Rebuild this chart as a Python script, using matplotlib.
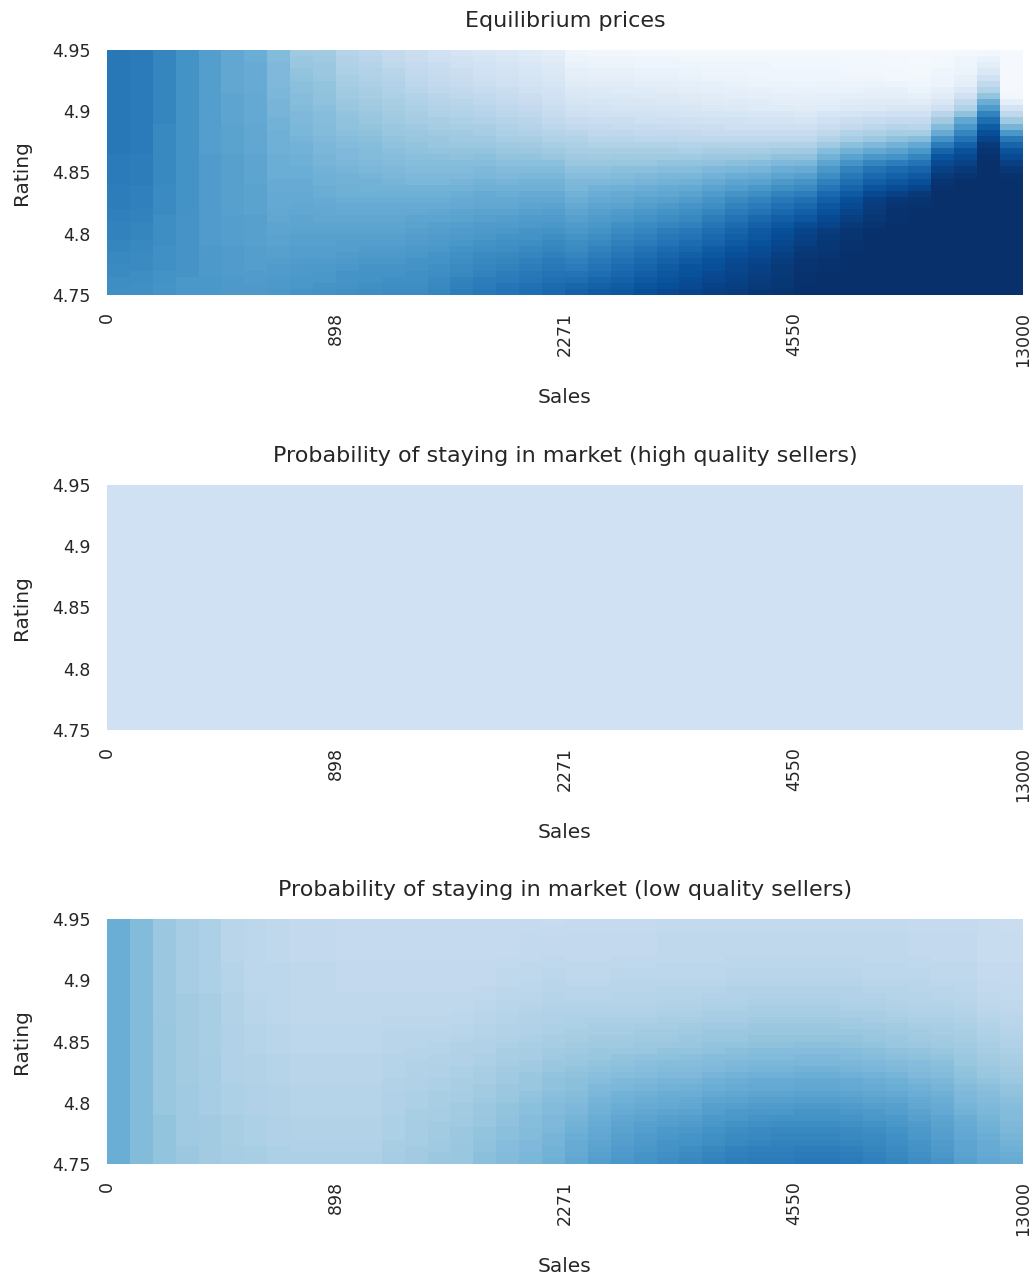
import numpy as np
import matplotlib
matplotlib.use("Agg")
import matplotlib.pyplot as plt

plt.rcParams["font.family"] = "DejaVu Sans"
for key in ["text.color", "axes.labelcolor", "xtick.color", "ytick.color"]:
    plt.rcParams[key] = ".15"

# axis labels
sales_ticks = [0, 898, 2271, 4550, 13000]
rating_ticks = [4.75, 4.8, 4.85, 4.9, 4.95]
rating_labels = ["4.75", "4.8", "4.85", "4.9", "4.95"]
n_sales = 40
n_rating = 40

# colour level (percent of the Blues scale),
# one list per sales bin, from rating 4.75 (bottom) up to 4.95 (top)
price_cols = [
    [63, 64, 64, 65, 65, 66, 66, 67, 67, 68, 68, 68, 69, 69, 70, 70, 70, 70, 71, 71, 71, 71, 71, 72, 72] + [72] * 15,
    [63, 63, 64, 64, 65, 65, 65, 66, 66, 67, 67, 67, 68, 68, 69, 69, 69, 69, 70, 70, 70, 70, 70, 71, 71] + [71] * 15,
    [61, 61, 62, 62, 63, 63, 63, 63, 64, 64, 64, 64, 64, 65, 65, 65, 65, 65, 66, 66, 66, 66, 66, 66, 66, 66, 66, 66, 67, 67] + [67] * 10,
    [60, 60, 60, 61, 61, 61, 61, 61, 61, 61, 61, 61, 61, 62, 62] + [62] * 25,
    [60, 60, 60, 59, 59, 59, 59, 59] + [58] * 15 + [57] * 17,
    [59, 59, 59, 58, 58, 58, 58, 58, 57, 57, 57, 57, 57, 56, 56, 56, 56, 56, 56, 56, 56, 56, 56, 55, 55, 55, 55, 55, 54, 54, 54, 54, 54, 53, 53, 53, 53, 53, 53, 53],
    [59, 59, 58, 58, 57, 57, 57, 57, 56, 56, 56, 56, 56, 55, 55, 55, 55, 55, 54, 54, 54, 54, 54, 53, 53, 53, 53, 53, 52, 52, 52, 52, 52, 51, 51, 51, 51, 51, 50, 50],
    [60, 59, 59, 58, 58, 57, 56, 56, 55, 55, 54, 54, 53, 53, 52, 52, 52, 51, 51, 50, 50, 50, 50, 49, 49, 49, 49, 48, 48, 47, 47, 47, 46, 46, 45, 45, 45, 45, 44, 44],
    [61, 60, 60, 59, 59, 58, 57, 57, 56, 56, 55, 54, 54, 53, 53, 52, 52, 51, 51, 50, 50, 49, 49, 48, 48, 47, 46, 46, 45, 45, 44, 43, 43, 42, 42, 41, 40, 39, 38, 37],
    [62, 61, 60, 60, 59, 58, 57, 57, 56, 56, 55, 54, 53, 53, 52, 51, 50, 50, 49, 49, 48, 47, 47, 46, 46, 45, 44, 44, 43, 43, 42, 41, 41, 40, 40, 39, 38, 38, 37, 36],
    [63, 62, 61, 61, 60, 59, 58, 57, 57, 56, 55, 54, 53, 52, 51, 50, 49, 49, 48, 48, 47, 46, 45, 45, 44, 43, 42, 41, 41, 40, 39, 38, 37, 36, 35, 34, 33, 32, 31, 30],
    [64, 63, 62, 62, 61, 60, 59, 58, 57, 56, 55, 54, 53, 52, 51, 50, 49, 48, 48, 47, 46, 45, 44, 44, 43, 42, 41, 40, 39, 38, 37, 36, 35, 34, 33, 32, 31, 30, 29, 28],
    [65, 64, 63, 62, 61, 60, 59, 58, 57, 56, 55, 54, 53, 52, 51, 50, 49, 48, 47, 46, 45, 44, 43, 42, 41, 40, 39, 38, 37, 36, 35, 34, 33, 32, 31, 30, 29, 27, 26, 25],
    [65, 64, 63, 63, 62, 61, 60, 59, 58, 57, 56, 55, 54, 52, 51, 50, 49, 48, 46, 45, 44, 43, 42, 41, 40, 39, 38, 37, 35, 34, 33, 32, 31, 29, 28, 27, 26, 25, 23, 22],
    [67, 66, 65, 64, 63, 62, 61, 60, 59, 58, 57, 56, 54, 53, 51, 50, 49, 48, 46, 45, 44, 43, 42, 40, 39, 38, 37, 35, 34, 32, 31, 30, 29, 27, 26, 25, 24, 23, 21, 20],
    [70, 69, 68, 66, 65, 64, 63, 62, 60, 59, 58, 57, 55, 54, 52, 51, 50, 48, 47, 45, 44, 43, 41, 40, 38, 37, 36, 34, 33, 31, 30, 29, 27, 26, 24, 23, 22, 20, 19, 17],
    [72, 71, 70, 68, 67, 66, 65, 63, 62, 60, 59, 58, 56, 55, 53, 52, 51, 49, 48, 46, 45, 43, 42, 40, 38, 37, 35, 34, 32, 30, 29, 27, 26, 24, 22, 21, 20, 18, 17, 15],
    [74, 73, 71, 70, 68, 67, 66, 64, 63, 61, 60, 58, 57, 55, 53, 52, 50, 49, 47, 45, 44, 42, 40, 39, 37, 35, 33, 32, 30, 28, 27, 25, 24, 22, 20, 19, 18, 17, 15, 14],
    [76, 75, 73, 72, 70, 69, 67, 66, 64, 62, 61, 59, 58, 56, 54, 53, 51, 49, 48, 46, 44, 42, 40, 38, 36, 34, 32, 30, 29, 27, 25, 23, 22, 20, 18, 17, 16, 15, 13, 12],
    [78, 77, 75, 74, 72, 71, 69, 67, 66, 64, 62, 60, 58, 57, 55, 53, 51, 49, 48, 46, 44, 42, 39, 37, 34, 32, 30, 28, 26, 24, 22, 21, 19, 18, 16, 15, 14, 13, 11, 10],
    [81, 79, 76, 74, 71, 69, 67, 65, 64, 62, 60, 58, 56, 54, 52, 50, 48, 46, 45, 43, 41, 39, 37, 35, 33, 31, 29, 26, 24, 21, 19, 17, 15, 14, 12, 10, 9, 7, 6, 4],
    [83, 81, 79, 76, 74, 72, 70, 68, 66, 64, 62, 60, 58, 56, 54, 52, 50, 48, 45, 43, 41, 39, 36, 34, 31, 29, 27, 25, 22, 20, 18, 16, 14, 13, 11, 9, 8, 6, 5, 3],
    [85, 83, 81, 79, 77, 75, 73, 71, 69, 67, 65, 63, 60, 58, 55, 53, 51, 49, 46, 44, 42, 39, 37, 34, 31, 29, 27, 24, 22, 19, 17, 15, 14, 12, 11, 9, 8, 6, 5, 3],
    [88, 86, 84, 82, 80, 78, 76, 74, 71, 69, 67, 65, 62, 60, 57, 55, 52, 50, 47, 45, 42, 39, 36, 34, 31, 28, 26, 24, 21, 19, 17, 15, 13, 12, 10, 8, 7, 5, 4, 2],
    [90, 88, 86, 85, 83, 81, 79, 77, 74, 72, 70, 67, 64, 62, 59, 56, 53, 51, 48, 46, 43, 40, 37, 34, 31, 28, 26, 23, 21, 18, 16, 14, 13, 11, 10, 8, 7, 5, 4, 2],
    [92, 90, 89, 87, 86, 84, 82, 79, 77, 74, 72, 69, 66, 64, 61, 58, 55, 52, 49, 46, 43, 40, 37, 33, 30, 27, 25, 22, 20, 17, 15, 13, 12, 10, 9, 7, 6, 5, 3, 2],
    [94, 93, 91, 90, 88, 87, 85, 83, 80, 78, 76, 73, 70, 67, 64, 61, 58, 55, 51, 48, 45, 41, 38, 34, 31, 27, 24, 22, 19, 17, 14, 12, 11, 9, 8, 6, 5, 4, 3, 2],
    [95, 94, 93, 92, 91, 90, 88, 86, 84, 82, 80, 77, 74, 71, 68, 65, 61, 57, 54, 50, 46, 42, 38, 35, 31, 27, 24, 21, 19, 16, 13, 12, 10, 9, 7, 6, 5, 4, 3, 2],
    [97, 96, 95, 94, 93, 92, 90, 89, 87, 85, 84, 81, 78, 74, 71, 68, 64, 60, 55, 51, 47, 43, 39, 35, 31, 27, 24, 21, 18, 15, 12, 11, 9, 8, 6, 5, 4, 4, 3, 2],
    [98, 97, 97, 96, 96, 95, 94, 92, 91, 89, 88, 85, 82, 78, 75, 72, 68, 63, 59, 54, 50, 45, 41, 36, 32, 27, 24, 21, 18, 15, 12, 10, 9, 7, 6, 4, 4, 3, 3, 2],
    [100, 100, 99, 99, 98, 98, 97, 96, 94, 93, 92, 89, 85, 82, 78, 75, 70, 65, 61, 56, 51, 46, 41, 37, 32, 27, 24, 21, 17, 14, 11, 10, 8, 7, 5, 4, 4, 3, 3, 2],
    [100, 100, 100, 100, 99, 99, 98, 97, 97, 96, 95, 92, 90, 87, 85, 82, 78, 73, 69, 64, 60, 54, 48, 43, 37, 31, 27, 23, 20, 16, 12, 10, 9, 7, 6, 4, 4, 3, 3, 2],
    [100, 100, 100, 100, 100, 100, 100, 99, 99, 98, 98, 96, 94, 92, 90, 88, 84, 80, 76, 72, 68, 61, 55, 48, 42, 35, 31, 26, 22, 17, 13, 11, 9, 7, 5, 4, 3, 3, 2, 2],
    [100] * 11 + [98, 97, 96, 95, 94, 90, 86, 82, 78, 74, 67, 60, 52, 45, 38, 33, 28, 24, 19, 14, 12, 10, 8, 6, 4, 3, 3, 2, 2],
    [100] * 12 + [99, 99, 98, 97, 93, 89, 85, 81, 77, 70, 62, 55, 48, 41, 35, 30, 25, 20, 15, 12, 10, 8, 5, 3, 3, 2, 2, 1],
    [100] * 14 + [99, 98, 96, 92, 88, 84, 80, 74, 67, 60, 52, 43, 35, 29, 25, 20, 15, 11, 8, 6, 4, 3, 2, 2, 1, 1],
    [100] * 17 + [99, 98, 96, 93, 90, 86, 80, 71, 61, 51, 44, 36, 29, 21, 15, 11, 9, 6, 5, 4, 2, 2, 1],
    [100] * 19 + [98, 96, 93, 90, 87, 81, 74, 67, 60, 53, 41, 32, 27, 20, 14, 10, 8, 6, 5, 4, 2],
    [100] * 22 + [99, 98, 96, 92, 88, 83, 76, 68, 58, 50, 40, 31, 26, 20, 14, 10, 7, 3],
    [100] * 19 + [99, 97, 94, 90, 86, 80, 72, 60, 47, 37, 27, 18, 9, 3, 2, 1, 1, 1, 1, 1, 1],
]

high_stay_cols = [[20] * n_rating for _ in range(n_sales)]

low_stay_cols = [
    [50] * 40,
    [44] * 40,
    [40, 40, 40, 40, 40, 40, 40, 40, 39, 39, 39, 39, 39, 39, 39, 39, 39, 39, 39, 39, 39, 39, 39, 38, 38] + [38] * 15,
    [38, 38, 38, 37, 37, 37, 37, 37, 37, 37, 37, 37, 37, 36, 36] + [36] * 10 + [36, 36, 36, 35, 35] + [35] * 10,
    [36, 36, 36, 36, 36, 36, 36, 36, 35, 35, 35, 35, 35, 35, 35, 35, 35, 35, 34, 34, 34, 34, 34, 34, 34, 34, 34, 34, 33, 33] + [33] * 10,
    [35, 35, 35, 34, 34, 34, 34, 34, 33, 33, 33, 33, 33, 32, 32, 32, 32, 32, 32, 32, 32, 32, 32, 31, 31, 31, 31, 31, 30, 30, 30, 30, 30, 29, 29, 29, 29, 29, 29, 29],
    [34, 34, 34, 33, 33, 33, 33, 33, 32, 32, 32, 32, 32, 31, 31, 31, 31, 31, 30, 30, 30, 30, 30, 29, 29, 29, 29, 29, 28, 28] + [28] * 10,
    [33, 33, 33, 32, 32, 32, 32, 32, 31, 31, 31, 31, 31, 30, 30, 30, 30, 30, 29, 29, 29, 29, 29, 28, 28, 28, 28, 28, 28, 28, 28, 28, 28, 27, 27, 27, 27, 27, 27, 27],
    [33, 33, 32, 32, 31, 31, 31, 31, 30, 30, 30, 30, 30, 29, 29, 29, 29, 29, 28, 28, 28, 28, 28, 27, 27, 27, 27, 27, 27, 27, 27, 27, 27, 26, 26, 26, 26, 26, 26, 26],
    [33, 33, 32, 32, 31, 31, 31, 31, 30, 30, 30, 30, 30, 29, 29, 29, 29, 29, 28, 28, 28, 28, 28, 27, 27, 27, 27, 27, 27, 27, 27, 27, 27, 26, 26, 26, 26, 26, 26, 26],
    [33, 33, 32, 32, 31, 31, 31, 31, 30, 30, 30, 30, 30, 29, 29, 29, 29, 29, 28, 28, 28, 28, 28, 27, 27, 27, 27, 27, 26, 26, 26, 26, 26, 25, 25, 25, 25, 25, 25, 25],
    [33, 33, 32, 32, 31, 31, 31, 31, 30, 30, 30, 30, 30, 29, 29, 29, 29, 29, 28, 28, 28, 28, 28, 27, 27, 27, 27, 27, 26, 26, 26, 26, 26, 25, 25, 25, 25, 25, 25, 25],
    [35, 35, 34, 34, 33, 33, 33, 33, 32, 32, 32, 32, 31, 31, 30, 30, 30, 30, 29, 29, 29, 29, 28, 28, 27, 27, 27, 27, 26, 26, 26, 26, 26, 25, 25, 25, 25, 25, 25, 25],
    [36, 36, 36, 35, 35, 35, 35, 34, 34, 33, 33, 33, 32, 32, 31, 31, 31, 30, 30, 29, 29, 29, 28, 28, 27, 27, 27, 27, 26, 26, 26, 26, 26, 25, 25, 25, 25, 25, 25, 25],
    [38, 38, 37, 37, 36, 36, 36, 35, 35, 34, 34, 34, 33, 33, 32, 32, 31, 31, 30, 30, 29, 29, 28, 28, 27, 27, 27, 27, 26, 26, 26, 26, 26, 25, 25, 25, 25, 25, 25, 25],
    [39, 39, 39, 38, 38, 38, 37, 37, 36, 36, 35, 35, 34, 34, 33, 33, 32, 32, 31, 31, 30, 29, 29, 28, 28, 27, 27, 27, 26, 26, 26, 26, 26, 25, 25, 25, 25, 25, 25, 25],
    [42, 42, 41, 41, 40, 40, 39, 39, 38, 38, 37, 36, 36, 35, 35, 34, 33, 33, 32, 32, 31, 30, 30, 29, 29, 28, 28, 27, 27, 26, 26, 26, 26, 25, 25, 25, 25, 25, 25, 25],
    [44, 44, 43, 43, 42, 42, 41, 41, 40, 40, 39, 38, 38, 37, 37, 36, 35, 34, 34, 33, 32, 31, 31, 30, 30, 29, 29, 28, 28, 27, 27, 27, 26, 26, 25, 25, 25, 25, 25, 25],
    [46, 46, 45, 45, 44, 44, 43, 43, 42, 42, 41, 40, 39, 39, 38, 37, 36, 35, 35, 34, 33, 32, 32, 31, 31, 30, 29, 29, 28, 28, 27, 27, 27, 26, 26, 26, 26, 26, 25, 25],
    [49, 48, 48, 47, 47, 46, 45, 45, 44, 44, 43, 42, 41, 41, 40, 39, 38, 37, 36, 35, 34, 33, 33, 32, 32, 31, 30, 30, 29, 29, 28, 28, 27, 27, 26, 26, 26, 25, 25, 24],
    [53, 52, 51, 51, 50, 49, 48, 47, 46, 45, 44, 43, 42, 42, 41, 40, 39, 38, 37, 36, 35, 34, 33, 33, 32, 31, 30, 29, 29, 28, 27, 27, 27, 26, 26, 26, 26, 26, 25, 25],
    [57, 56, 55, 54, 53, 52, 51, 50, 49, 48, 47, 46, 45, 43, 42, 41, 40, 39, 38, 37, 36, 35, 34, 33, 32, 31, 30, 29, 29, 28, 27, 27, 27, 26, 26, 26, 26, 26, 25, 25],
    [60, 59, 58, 57, 56, 55, 54, 53, 51, 50, 49, 48, 46, 45, 43, 42, 41, 40, 38, 37, 36, 35, 34, 33, 32, 31, 30, 30, 29, 29, 28, 28, 27, 27, 26, 26, 26, 26, 25, 25],
    [62, 61, 60, 59, 58, 57, 56, 54, 53, 51, 50, 49, 47, 46, 44, 43, 42, 41, 39, 38, 37, 36, 35, 33, 32, 31, 30, 30, 29, 29, 28, 28, 27, 27, 26, 26, 26, 26, 25, 25],
    [64, 63, 62, 61, 60, 59, 57, 56, 54, 52, 51, 50, 48, 47, 45, 44, 43, 41, 40, 38, 37, 36, 35, 34, 33, 32, 31, 30, 30, 29, 28, 28, 28, 27, 27, 27, 27, 27, 26, 26],
    [66, 65, 64, 62, 61, 60, 58, 57, 55, 53, 52, 50, 49, 47, 45, 44, 43, 42, 40, 39, 38, 37, 36, 34, 33, 32, 31, 30, 30, 29, 28, 28, 28, 27, 27, 27, 27, 27, 26, 26],
    [68, 67, 66, 64, 63, 62, 60, 59, 57, 56, 54, 52, 50, 49, 47, 45, 44, 43, 41, 40, 39, 38, 37, 35, 34, 33, 32, 31, 30, 29, 28, 28, 28, 27, 27, 27, 27, 27, 26, 26],
    [70, 69, 68, 66, 65, 64, 62, 60, 59, 57, 55, 53, 51, 50, 48, 46, 45, 43, 42, 40, 39, 38, 37, 35, 34, 33, 32, 31, 31, 30, 29, 29, 28, 28, 27, 27, 27, 27, 26, 26],
    [71, 70, 69, 67, 66, 65, 63, 61, 60, 58, 56, 54, 52, 51, 49, 47, 46, 44, 43, 41, 40, 39, 38, 36, 35, 34, 33, 32, 31, 30, 29, 29, 28, 28, 27, 27, 27, 27, 26, 26],
    [71, 70, 69, 68, 67, 66, 64, 62, 60, 58, 56, 54, 52, 51, 49, 47, 46, 44, 43, 41, 40, 39, 38, 36, 35, 34, 33, 32, 31, 30, 29, 29, 28, 28, 27, 27, 27, 27, 26, 26],
    [72, 71, 70, 68, 67, 66, 64, 62, 61, 59, 57, 55, 53, 52, 50, 48, 46, 45, 43, 42, 40, 39, 38, 36, 35, 34, 33, 32, 31, 30, 29, 29, 28, 28, 27, 27, 27, 27, 26, 26],
    [72, 71, 70, 68, 67, 66, 64, 62, 61, 59, 57, 55, 53, 52, 50, 48, 46, 45, 43, 42, 40, 39, 38, 36, 35, 34, 33, 32, 31, 30, 29, 29, 28, 28, 27, 27, 27, 27, 26, 26],
    [71, 70, 69, 67, 66, 65, 63, 61, 60, 58, 56, 54, 52, 51, 49, 47, 46, 44, 43, 41, 40, 39, 37, 36, 34, 33, 32, 31, 31, 30, 29, 29, 28, 28, 27, 27, 27, 27, 26, 26],
    [69, 68, 67, 66, 65, 64, 62, 60, 59, 57, 55, 53, 51, 50, 48, 46, 45, 43, 42, 40, 39, 38, 37, 35, 34, 33, 32, 31, 30, 29, 28, 28, 28, 27, 27, 27, 27, 27, 26, 26],
    [67, 66, 65, 64, 63, 62, 60, 59, 57, 56, 54, 52, 50, 49, 47, 45, 44, 42, 41, 39, 38, 37, 36, 34, 33, 32, 31, 30, 30, 29, 28, 28, 28, 27, 27, 27, 27, 27, 26, 26],
    [64, 63, 62, 61, 60, 59, 58, 56, 55, 53, 52, 50, 49, 47, 45, 44, 43, 41, 40, 38, 37, 36, 35, 33, 32, 31, 30, 30, 29, 29, 28, 28, 27, 27, 26, 26, 26, 26, 25, 25],
    [61, 60, 59, 58, 57, 56, 55, 54, 52, 51, 50, 49, 47, 46, 44, 43, 42, 40, 39, 37, 36, 35, 34, 33, 32, 31, 30, 29, 29, 28, 27, 27, 27, 26, 26, 26, 26, 26, 25, 25],
    [56, 55, 54, 54, 53, 52, 51, 50, 48, 47, 46, 45, 44, 42, 41, 40, 39, 38, 37, 36, 35, 34, 33, 32, 31, 30, 29, 29, 28, 28, 27, 27, 27, 26, 26, 26, 26, 26, 25, 25],
    [53, 52, 51, 51, 50, 49, 48, 47, 46, 45, 44, 43, 42, 40, 39, 38, 37, 36, 35, 34, 33, 32, 31, 30, 29, 28, 27, 27, 26, 26, 25, 25, 25, 24, 24, 24, 24, 24, 24, 24],
    [51, 50, 49, 48, 47, 46, 45, 44, 44, 43, 42, 41, 40, 38, 37, 36, 35, 34, 33, 32, 31, 30, 29, 29, 28, 27, 27, 26, 26, 25, 25, 25, 25, 24, 24, 24, 24, 24, 23, 23],
]


def to_grid(cols, name):
    for i, c in enumerate(cols):
        if len(c) != n_rating:
            raise ValueError(f"{name} column {i} has {len(c)} values")
    return np.array(cols, dtype=float).T / 100  # rows: rating, columns: sales


panels = [
    ("Equilibrium prices", to_grid(price_cols, "price"), 0.7692),
    ("Probability of staying in market (high quality sellers)",
     to_grid(high_stay_cols, "high"), 0.4288),
    ("Probability of staying in market (low quality sellers)",
     to_grid(low_stay_cols, "low"), 0.0892),
]

fig = plt.figure(figsize=(10.33, 12.78), dpi=100)
for title, grid, bottom in panels:
    ax = fig.add_axes([0.1036, bottom, 0.8867, 0.1917])
    ax.imshow(grid, cmap="Blues", vmin=0, vmax=1, origin="lower",
              extent=(0, n_sales, rating_ticks[0], rating_ticks[-1]),
              aspect="auto", interpolation="nearest")
    ax.set_xlim(0, n_sales)
    ax.set_ylim(rating_ticks[0], rating_ticks[-1])
    ax.set_xticks(np.linspace(0, n_sales, len(sales_ticks)),
                  [str(s) for s in sales_ticks], rotation=90, fontsize=12.5)
    ax.set_yticks(rating_ticks, rating_labels, fontsize=12.5)
    ax.tick_params(length=0, pad=12)
    for s in ax.spines.values():
        s.set_visible(False)
    ax.set_title(title, fontsize=16, pad=16.5)
    ax.set_xlabel("Sales", fontsize=14.5)
    ax.xaxis.set_label_coords(0.5, -0.38)
    ax.set_ylabel("Rating", fontsize=14.5)
    ax.yaxis.set_label_coords(-0.083, 0.5)

fig.savefig("out.png", dpi=100)
